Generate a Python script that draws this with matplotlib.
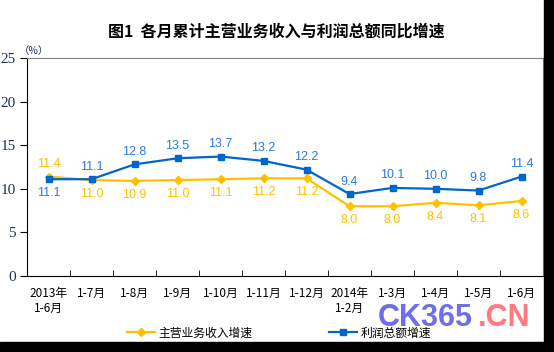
import matplotlib.pyplot as plt
from matplotlib.patches import Rectangle

plt.rcParams['font.family'] = ['Noto Sans CJK SC', 'DejaVu Sans']

# -- Data --
months = ['2013年\n1-6月', '1-7月', '1-8月', '1-9月', '1-10月', '1-11月', '1-12月',
          '2014年\n1-2月', '1-3月', '1-4月', '1-5月', '1-6月']
revenue_growth = [11.4, 11.0, 10.9, 11.0, 11.1, 11.2, 11.2, 8.0, 8.0, 8.4, 8.1, 8.6]
profit_growth = [11.1, 11.1, 12.8, 13.5, 13.7, 13.2, 12.2, 9.4, 10.1, 10.0, 9.8, 11.4]
revenue_name = '主营业务收入增速'
profit_name = '利润总额增速'

yellow = '#FFC000'
blue = '#0066CC'
blue_lbl = '#2A7AE0'

fig = plt.figure(figsize=(5.54, 3.52), dpi=100)
ax = fig.add_axes([27 / 554, 76 / 352, 516 / 554, 218 / 352])

x = list(range(len(months)))
ax.plot(x, revenue_growth, color=yellow, lw=1.6, marker='D', ms=4.5,
        label=revenue_name, zorder=3)
ax.plot(x, profit_growth, color=blue, lw=1.6, marker='s', ms=4.5,
        label=profit_name, zorder=3)

# -- Data labels --
for i, v in enumerate(revenue_growth):
    dy = 9 if i == 0 else -10
    ax.annotate('%.1f' % v, (i, v), xytext=(0, dy), textcoords='offset points',
                ha='center', va='center', color=yellow, fontsize=9,
                family='Liberation Sans')
for i, v in enumerate(profit_growth):
    dy = -10 if i == 0 else 9
    ax.annotate('%.1f' % v, (i, v), xytext=(0, dy), textcoords='offset points',
                ha='center', va='center', color=blue_lbl, fontsize=9,
                family='Liberation Sans')

# -- Axes --
ax.set_xlim(-0.5, len(months) - 0.5)
ax.set_ylim(0, 25)
ax.set_yticks([0, 5, 10, 15, 20, 25])
ax.set_xticks(x)
ax.set_xticklabels(months, fontsize=8.5, linespacing=1.2)
ax.set_xticks([i + 0.5 for i in x[:-1]], minor=True)
ax.tick_params(axis='x', which='major', length=0, pad=8)
ax.tick_params(axis='x', which='minor', direction='in', length=4, color='black')
ax.tick_params(axis='y', direction='out', length=5, pad=3, labelsize=11,
               labelcolor='#1F2D5A')
for lbl in ax.get_yticklabels():
    lbl.set_family('Liberation Serif')

for side in ['top', 'right']:
    ax.spines[side].set_color('#808080')
for side in ['left', 'bottom']:
    ax.spines[side].set_color('black')

fig.text(19 / 554, 1 - 51 / 352, '（%）', fontsize=7.5, color='#1F2D5A',
         ha='left', va='center')
fig.text(276 / 554, 1 - 32 / 352, '图1  各月累计主营业务收入与利润总额同比增速',
         fontsize=11.5, fontweight='bold', ha='center', va='center')

fig.legend(loc='center', bbox_to_anchor=(279 / 554, 19 / 352), ncol=2,
           frameon=False, fontsize=8.5, handlelength=2.4, handletextpad=0.25,
           columnspacing=6.5, markerscale=0.9)

# -- Watermark --
fig.text(378 / 554, 1 - 318 / 352, 'CK365', fontsize=22, fontweight='bold',
         family='Liberation Sans', color='#6E6EEB',
         ha='left', va='center', zorder=10)
fig.text(478 / 554, 1 - 318 / 352, '.CN', fontsize=22, fontweight='bold',
         family='Liberation Sans', color='#FF7B80',
         ha='left', va='center', zorder=10)

# -- Black border at right and bottom --
fig.patches.append(Rectangle((544 / 554, 0), 10 / 554, 1, transform=fig.transFigure,
                             color='black', zorder=20))
fig.patches.append(Rectangle((0, 0), 1, 10 / 352, transform=fig.transFigure,
                             color='black', zorder=20))

fig.savefig('out.png', dpi=100)
